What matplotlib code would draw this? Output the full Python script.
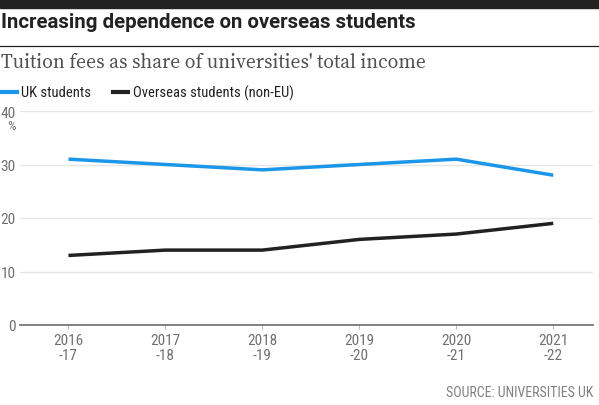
import matplotlib.pyplot as plt
from matplotlib.lines import Line2D

years = ["2016\n-17", "2017\n-18", "2018\n-19", "2019\n-20", "2020\n-21", "2021\n-22"]
uk_students = [31, 30, 29, 30, 31, 28]
overseas_students = [13, 14, 14, 16, 17, 19]
y_ticks = [0, 10, 20, 30, 40]

BLUE = "#1b96e8"
DARK = "#222222"
GREY = "#707070"
cond = "Roboto Condensed"

fig = plt.figure(figsize=(5.99, 4.06), dpi=100)
W, H = 599, 406

# axes placement in pixels, converted to figure fractions
ax = fig.add_axes([20 / W, 1 - 326 / H, (593 - 20) / W, (326 - 112) / H])
x = list(range(len(years)))
ax.plot(x, uk_students, color=BLUE, lw=2.5, solid_capstyle="butt", zorder=3)
ax.plot(x, overseas_students, color=DARK, lw=2.5, solid_capstyle="butt", zorder=3)

ax.set_xlim(-0.5, 5.41)
ax.set_ylim(0, 40)
ax.set_yticks(y_ticks)
ax.set_yticklabels([str(v) for v in y_ticks], fontfamily=cond, fontsize=11, color=GREY)
ax.set_xticks(x)
ax.set_xticklabels(years, fontfamily=cond, fontsize=11, color=GREY, linespacing=1.05)
ax.tick_params(axis="y", length=0, pad=3)
ax.tick_params(axis="x", length=3, color="#bbbbbb", pad=3)
ax.grid(axis="y", color="#e6e6e6", lw=1)
ax.set_axisbelow(True)
for s in ["top", "right", "left"]:
    ax.spines[s].set_visible(False)
ax.spines["bottom"].set_color("#777777")
ax.spines["bottom"].set_linewidth(1.3)
ax.text(-8 / (593 - 20), 0.93, "%", transform=ax.transAxes, ha="center", va="center",
        fontfamily=cond, fontsize=9.5, color=GREY)

# header
fig.patches.append(plt.Rectangle((0, 1 - 9 / H), 1, 9 / H, transform=fig.transFigure,
                                 color="#222222", zorder=5))
fig.text(1 / W, 1 - 23 / H, "Increasing dependence on overseas students",
         fontfamily="Roboto", fontweight="bold", fontsize=14.7, color="#222222",
         ha="left", va="center")
fig.add_artist(Line2D([0, 1], [1 - 47 / H, 1 - 47 / H], transform=fig.transFigure,
                      color="#222222", lw=0.9))
fig.text(1 / W, 1 - 63 / H, "Tuition fees as share of universities' total income",
         fontfamily="Source Serif 4", fontsize=14, color="#505050",
         ha="left", va="center")

# legend
ly = 1 - 93 / H
fig.add_artist(Line2D([2 / W, 17 / W], [ly, ly], transform=fig.transFigure, color=BLUE, lw=3))
fig.text(21 / W, ly, "UK students", fontfamily=cond, fontsize=10.5, color="#222222",
         ha="left", va="center")
fig.add_artist(Line2D([113 / W, 128 / W], [ly, ly], transform=fig.transFigure, color=DARK, lw=3))
fig.text(133 / W, ly, "Overseas students (non-EU)", fontfamily=cond, fontsize=10.5,
         color="#222222", ha="left", va="center")

fig.text(593 / W, 1 - 393 / H, "SOURCE: UNIVERSITIES UK", fontfamily=cond,
         fontsize=10, color="#808080", ha="right", va="center")

fig.savefig("out.png", dpi=100)
